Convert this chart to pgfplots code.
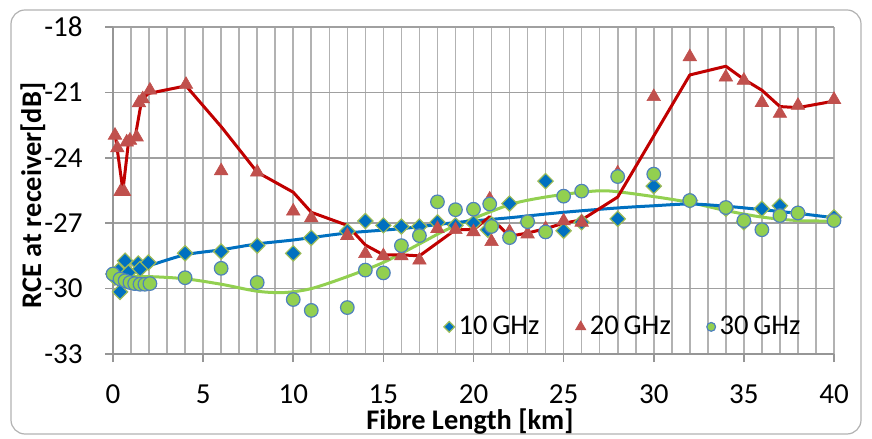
\documentclass[border=0pt]{standalone}
\usepackage{pgfplots}
\pgfplotsset{compat=1.18}
\usepackage{fontspec}
\setmainfont{Carlito}
\definecolor{bluec}{RGB}{0,112,192}
\definecolor{diamedge}{RGB}{155,187,89}
\definecolor{redm}{RGB}{192,80,77}
\definecolor{redl}{RGB}{192,0,0}
\definecolor{greenm}{RGB}{146,208,80}
\definecolor{circedge}{RGB}{79,129,189}
\definecolor{gridc}{RGB}{178,178,178}
\definecolor{hgridc}{RGB}{160,160,160}
\definecolor{axc}{RGB}{150,150,150}

\pgfplotstableread{
x y
0.02 -29.33
0.1 -29.49
0.3 -29.18
0.39 -30.15
0.67 -28.72
0.85 -29.26
1.4 -28.85
1.5 -29.1
1.96 -28.8
4 -28.38
6 -28.3
8 -28.03
10 -28.38
11 -27.67
13 -27.37
14 -26.9
15 -27.1
16 -27.15
17 -27.15
18 -26.96
19 -27.1
20 -27.0
20.8 -27.3
21 -27.05
22 -26.1
23 -26.96
24 -25.07
25 -27.35
26 -26.96
28 -26.8
30 -25.3
32 -25.96
34 -26.34
35 -26.96
36 -26.34
37 -26.2
38 -26.54
40 -26.73
}\tenGHz

\pgfplotstableread{
x y
0.11 -22.97
0.24 -23.55
0.42 -25.55
0.61 -25.55
0.76 -23.28
0.94 -23.2
1.31 -23.05
1.44 -21.48
1.65 -21.3
2.05 -20.9
4.05 -20.64
6 -24.6
8 -24.66
10 -26.45
11 -26.76
13 -27.57
14 -28.4
15 -28.5
16 -28.5
17 -28.7
18 -27.25
19 -27.3
20 -27.4
20.9 -25.9
21 -27.85
22 -27.4
23 -27.5
24 -27.25
25 -26.9
26 -26.96
28 -24.7
30 -21.2
32 -19.37
34 -20.3
35 -20.45
36 -21.47
37 -21.97
38 -21.6
40 -21.33
}\twentyGHz

\pgfplotstableread{
x y
0 -29.33
0.39 -29.56
0.67 -29.64
0.94 -29.72
1.2 -29.77
1.5 -29.8
1.77 -29.8
2.05 -29.77
4 -29.5
6 -29.07
8 -29.72
10 -30.5
11 -31.0
13 -30.87
14 -29.15
15 -29.28
16 -28.03
17 -27.57
18 -26.02
19 -26.38
20 -26.36
20.9 -26.12
21 -27.15
22 -27.66
23 -26.93
24 -27.4
25 -25.76
26 -25.53
28 -24.86
30 -24.75
32 -25.96
34 -26.28
35 -26.88
36 -27.3
37 -26.65
38 -26.53
40 -26.88
}\thirtyGHz

\pgfplotstableread{
x y
0.15 -23.1
0.55 -25.5
0.85 -23.35
1.22 -23.1
1.59 -21.36
1.96 -21.05
4.05 -20.7
6.03 -22.6
8 -24.66
10 -25.58
11 -26.5
13 -27.1
14 -28.0
15 -28.45
16 -28.45
17 -28.5
18 -27.9
19 -27.3
20 -27.3
20.9 -26.7
22 -27.6
23 -27.45
24 -27.25
25 -27.0
26 -26.85
28 -25.8
32 -20.2
34 -19.8
35 -20.4
36 -20.9
37 -21.65
38 -21.7
40 -21.4
}\redline

\pgfplotstableread{
x y
0 -29.45
1 -29.2
2 -28.95
4 -28.45
6 -28.22
8 -27.95
10 -27.77
13 -27.45
16 -27.25
19 -26.97
22 -26.75
25 -26.5
28 -26.3
30 -26.2
32 -26.12
34 -26.22
36 -26.38
38 -26.55
40 -26.75
}\bluetrend

\pgfplotstableread{
x y
0 -29.45
2 -29.45
4 -29.55
6 -29.8
8 -30.12
9.5 -30.18
11 -30.0
13 -29.45
15 -28.8
17 -27.95
18.5 -27.3
20.4 -26.65
22.2 -26.1
24 -25.8
26 -25.58
27.5 -25.52
30 -25.78
32 -26.05
34 -26.42
36 -26.72
38 -26.88
40 -26.9
}\greentrend

\begin{document}
\fontsize{14bp}{17bp}\selectfont
\begin{tikzpicture}
\useasboundingbox (0,0) rectangle (436bp,219.5bp);
\draw[gray!60, rounded corners=7bp, line width=0.6bp] (5.5bp,2.5bp) rectangle (430.5bp,214.5bp);
% grid (layout only): axis box from (56.5bp,42.5bp) to (417bp,206bp)
\foreach \k in {1,...,40} {
  \pgfmathsetmacro\gx{56.5+\k*9.0125}
  \draw[gridc, line width=0.8bp] (\gx bp,42.5bp) -- (\gx bp,206bp);
}
\foreach \j in {1,...,5} {
  \pgfmathsetmacro\gy{42.5+\j*32.7}
  \draw[hgridc, line width=0.8bp] (56.5bp,\gy bp) -- (417bp,\gy bp);
}
\begin{axis}[
  at={(56.5bp,42.5bp)}, anchor=south west,
  width=360.5bp, height=163.5bp, scale only axis,
  xmin=0, xmax=40, ymin=-33, ymax=-18,
  xtick={0,5,...,40},
  ytick={-33,-30,...,-18},
  axis x line*=bottom, axis y line*=left,
  axis line style={axc, line width=0.8bp, -},
  tick style={axc, line width=0.8bp},
  tick align=outside,
  major tick length=4bp, minor tick length=0pt,
  /pgf/number format/assume math mode=true,
  ticklabel style={font=\fontsize{14.5bp}{17bp}\selectfont},
  xticklabel style={anchor=north, inner sep=0pt, yshift=-11bp},
  yticklabel style={anchor=east, inner sep=0pt, xshift=-11bp},
  xlabel={\bfseries Fibre Length [km]},
  ylabel={\bfseries RCE at receiver[dB]},
  label style={font=\fontsize{14.2bp}{17bp}\selectfont},
  xlabel style={at={(axis description cs:0.495,-0.206)}, anchor=center},
  ylabel style={at={(axis description cs:-0.111,0.485)}, anchor=center},
  legend columns=3,
  legend style={draw=none, fill=none, at={(axis description cs:0.709,0.083)}, anchor=center,
    font=\fontsize{14.3bp}{17bp}\selectfont,
    /tikz/every even column/.append style={column sep=16bp}},
  legend image code/.code={\draw[#1, mark repeat=2, mark phase=2] plot coordinates {(0bp,0bp) (5bp,0bp) (11.5bp,0bp)};},
  clip=false,
]
\addplot[only marks, mark=square*, mark size=2.7bp, mark options={rotate=45, fill=bluec, draw=diamedge, line width=0.6bp},
  legend image post style={mark size=1.9bp}] table {\tenGHz};
\addlegendentry{10\,GHz}
\addplot[only marks, mark=triangle*, mark size=3.9bp, mark options={fill=redm, draw=redm, line width=0.3bp},
  legend image post style={mark size=3bp}] table {\twentyGHz};
\addlegendentry{20\,GHz}
\addplot[only marks, mark=*, mark size=3.4bp, mark options={fill=greenm, draw=circedge, line width=0.6bp},
  legend image post style={mark size=2.2bp}] table {\thirtyGHz};
\addlegendentry{30\,GHz}
\addplot[greenm, line width=1.5bp, smooth, no markers, forget plot] table {\greentrend};
\addplot[bluec, line width=1.5bp, smooth, no markers, forget plot] table {\bluetrend};
\addplot[redl, line width=1.5bp, no markers, forget plot, line join=round] table {\redline};
\end{axis}
\end{tikzpicture}
\end{document}
